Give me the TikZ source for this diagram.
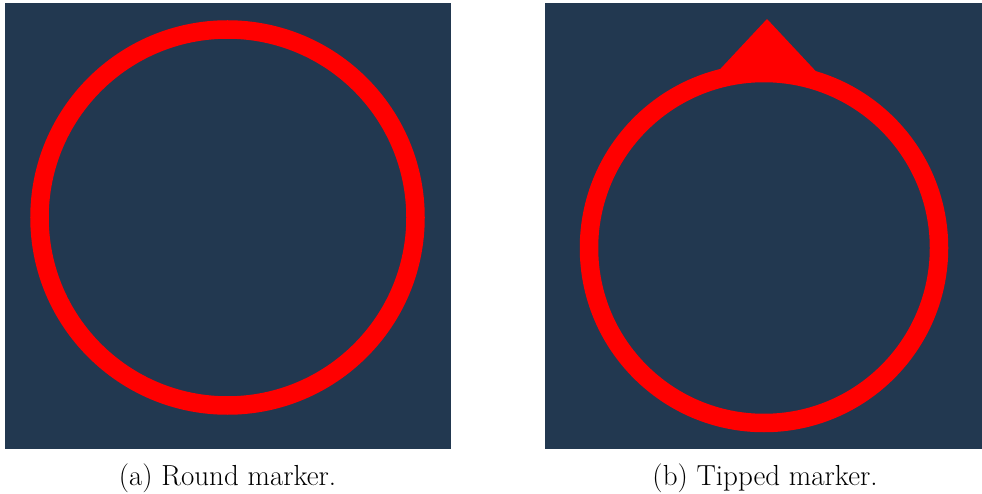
\documentclass[tikz,border=0pt]{standalone}
\definecolor{panelbg}{RGB}{34,56,80}
\definecolor{markred}{RGB}{255,0,0}
\tikzset{
  panel/.style={fill=panelbg, draw=none},
  ring/.style={draw=markred, line width=18.5pt},
  tipfill/.style={fill=markred, draw=none},
  captext/.style={anchor=base, inner sep=0pt, font=\fontsize{29}{33}\selectfont}
}
\begin{document}
\begin{tikzpicture}[x=1pt,y=1pt]
\useasboundingbox (0,0) rectangle (982,-494);
% panels
\path[panel] (5,-3) rectangle (451,-449);
\path[panel] (545,-3) rectangle (982,-449);
% round marker
\coordinate (c1) at (227.5,-217.5);
\draw[ring] (c1) circle (188);
% tipped marker
\coordinate (c2) at (764,-248);
\coordinate (tipA) at (767,-19);
\coordinate (tipL) at (710,-80);
\coordinate (tipR) at (824,-80);
\path[tipfill] (tipA) -- (tipR) -- (tipL) -- cycle;
\draw[ring] (c2) circle (175);
% captions
\node[captext] (capa) at (227.5,-485) {(a) Round marker.};
\node[captext] (capb) at (765,-485) {(b) Tipped marker.};
\end{tikzpicture}
\end{document}
